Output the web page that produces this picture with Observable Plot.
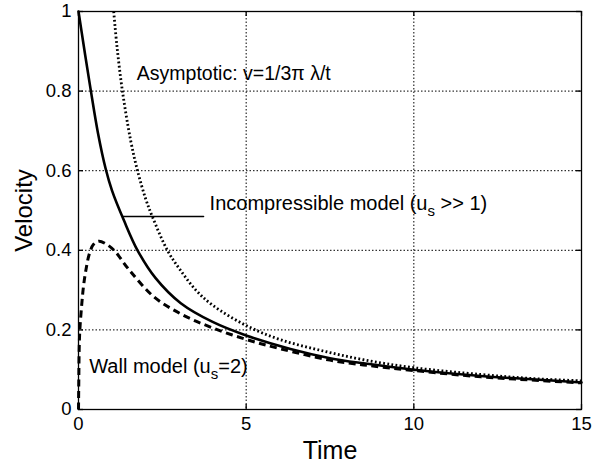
<!DOCTYPE html>
<html>
<head>
<meta charset="utf-8">
<script src="https://cdn.jsdelivr.net/npm/d3@7"></script>
<script src="https://cdn.jsdelivr.net/npm/@observablehq/plot@0.6"></script>
<style>
  html, body { margin: 0; padding: 0; background: #fff; }
  #chart { width: 606px; height: 466px; }
</style>
</head>
<body>
<div id="chart"></div>
<script>
// ---- data ----
const xTicks = [0, 5, 10, 15];
const yTicks = [0, 0.2, 0.4, 0.6, 0.8, 1];
const yTickLabels = ["0", "0.2", "0.4", "0.6", "0.8", "1"];
const xGrid = [5, 10];
const yGrid = [0.2, 0.4, 0.6, 0.8];

// Incompressible model (solid)
const tIncomp = [0, 0.1, 0.2, 0.37, 0.58, 0.81, 1.0, 1.36, 1.76, 2.3, 3.05, 4.0, 5.0, 6.32, 7.5, 8.5, 10, 12, 13.5, 15];
const vIncomp = [1.0, 0.945, 0.89, 0.80, 0.695, 0.605, 0.550, 0.474, 0.40, 0.330, 0.267, 0.220, 0.186, 0.152, 0.129, 0.116, 0.100, 0.084, 0.076, 0.068];

// Asymptotic (dotted)
const tAsym = [1.05, 1.15, 1.31, 1.56, 1.76, 2.0, 2.2, 2.65, 3.04, 3.5, 4.0, 5.0, 6.0, 7.2, 8.5, 10, 12, 13.5, 15];
const vAsym = [1.0, 0.91, 0.80, 0.674, 0.60, 0.53, 0.485, 0.40, 0.35, 0.30, 0.262, 0.211, 0.176, 0.149, 0.125, 0.105, 0.088, 0.078, 0.072];

// Wall model (dashed)
const tWall = [0, 0.01, 0.02, 0.04, 0.1, 0.15, 0.22, 0.32, 0.45, 0.61, 0.8, 1.06, 1.5, 2.25, 3.1, 4.0, 5.0, 6.0, 7.5, 8.5, 10, 12, 13.5, 15];
const vWall = [0, 0.08, 0.15, 0.2, 0.267, 0.31, 0.35, 0.39, 0.415, 0.423, 0.417, 0.400, 0.352, 0.283, 0.238, 0.205, 0.176, 0.153, 0.124, 0.112, 0.098, 0.082, 0.074, 0.067];

// annotations
const labels = [
  {text: "Asymptotic: v=1/3\u03C0 \u03BB/t", t: 1.74, v: 0.844, size: 19.5},
  {text: "Incompressible model (u_s >> 1)", t: 3.91, v: 0.517, size: 20},
  {text: "Wall model (u_s=2)", t: 0.32, v: 0.107, size: 20}
];
const leader = [{t: 1.33, v: 0.485}, {t: 3.73, v: 0.485}];

const xLabel = "Time";
const yLabel = "Velocity";

// ---- build ----
const incomp = tIncomp.map((t, i) => ({t, v: vIncomp[i]}));
const asym = tAsym.map((t, i) => ({t, v: vAsym[i]}));
const wall = tWall.map((t, i) => ({t, v: vWall[i]}));

const W = 606, H = 466, mL = 78, mR = 25, mT = 11, mB = 57;
const innerW = W - mL - mR, innerH = H - mT - mB, tick = 5;

const chart = Plot.plot({
  width: W,
  height: H,
  marginLeft: mL,
  marginRight: mR,
  marginTop: mT,
  marginBottom: mB,
  style: {fontFamily: "'Liberation Sans', Arial, sans-serif", fontSize: "18px", color: "#000", background: "#fff"},
  x: {domain: [0, 15]},
  y: {domain: [0, 1]},
  marks: [
    Plot.ruleX(xGrid, {stroke: "#000", strokeDasharray: "1.5,2", strokeWidth: 1, strokeLinecap: "butt"}),
    Plot.ruleY(yGrid, {stroke: "#000", strokeDasharray: "1.5,2", strokeWidth: 1, strokeLinecap: "butt"}),
    // inward ticks on all four sides
    Plot.tickX(xTicks, {x: (d) => d, insetTop: innerH - tick, stroke: "#000", strokeWidth: 1.3}),
    Plot.tickX(xTicks, {x: (d) => d, insetBottom: innerH - tick, stroke: "#000", strokeWidth: 1.3}),
    Plot.tickY(yTicks, {y: (d) => d, insetRight: innerW - tick, stroke: "#000", strokeWidth: 1.3}),
    Plot.tickY(yTicks, {y: (d) => d, insetLeft: innerW - tick, stroke: "#000", strokeWidth: 1.3}),
    Plot.axisX(xTicks, {anchor: "bottom", tickSize: 0, tickPadding: 7, label: null, fontSize: 18.5}),
    Plot.axisY(yTicks, {anchor: "left", tickSize: 0, tickPadding: 7, label: null, fontSize: 18.5,
      tickFormat: (d) => yTickLabels[yTicks.indexOf(d)]}),
    Plot.frame({stroke: "#000", strokeWidth: 1.3}),
    Plot.line(asym, {x: "t", y: "v", curve: "catmull-rom", stroke: "#000", strokeWidth: 2.8, strokeDasharray: "1.8,2.4", strokeLinecap: "butt"}),
    Plot.line(wall, {x: "t", y: "v", curve: "catmull-rom", stroke: "#000", strokeWidth: 3, strokeDasharray: "7,4.5", strokeLinecap: "butt"}),
    Plot.line(incomp, {x: "t", y: "v", curve: "catmull-rom", stroke: "#000", strokeWidth: 2.6}),
    Plot.line(leader, {x: "t", y: "v", stroke: "#000", strokeWidth: 1.5}),
    Plot.text(labels, {x: "t", y: "v", text: "text", textAnchor: "start", lineAnchor: "middle", fontSize: "size", fill: "#000"}),
    Plot.text([yLabel], {frameAnchor: "left", dx: -54, rotate: -90, textAnchor: "middle", lineAnchor: "middle", fontSize: 24, fill: "#000"}),
    Plot.text([xLabel], {frameAnchor: "bottom", dy: 41, textAnchor: "middle", lineAnchor: "middle", fontSize: 25, fill: "#000"})
  ]
});
document.getElementById("chart").appendChild(chart);

// subscripts: turn "u_s" into u with a lowered small s
chart.querySelectorAll("text").forEach((el) => {
  const s = el.textContent;
  const idx = s.indexOf("_s");
  if (idx < 0 || el.children.length) return;
  const before = s.slice(0, idx);
  const after = s.slice(idx + 2);
  el.textContent = "";
  const ns = "http://www.w3.org/2000/svg";
  const a = document.createElementNS(ns, "tspan");
  a.textContent = before;
  const b = document.createElementNS(ns, "tspan");
  b.textContent = "s";
  b.setAttribute("dy", "6");
  b.setAttribute("font-size", "15");
  const c = document.createElementNS(ns, "tspan");
  c.textContent = after;
  c.setAttribute("dy", "-6");
  el.append(a, b, c);
});
</script>
</body>
</html>
